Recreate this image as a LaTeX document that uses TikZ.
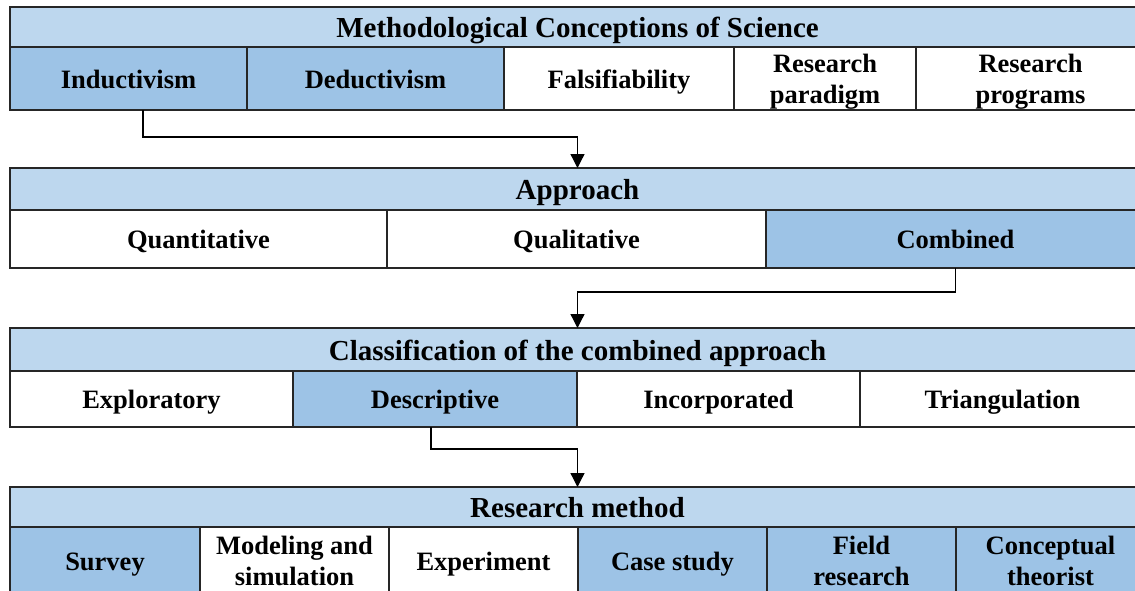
\documentclass[tikz,border=0pt]{standalone}
\usepackage{fontspec}
\setmainfont{Liberation Serif}
\usetikzlibrary{arrows.meta}

\definecolor{headfill}{HTML}{BDD7EE}
\definecolor{markfill}{HTML}{9DC3E6}
\definecolor{rulecol}{HTML}{262626}

\tikzset{
  cellbox/.style={draw=rulecol, line width=1.3pt, inner sep=0pt, outer sep=0pt,
    align=center, text=black, font=\bfseries\fontsize{26.5}{31}\selectfont},
  oneline/.style={cellbox, text height=24pt, text depth=5pt},
  twoline/.style={cellbox, text depth=0.3pt},
  headbox/.style={cellbox, fill=headfill, text height=28pt, text depth=7pt,
    font=\bfseries\fontsize{29}{32}\selectfont},
  flow/.style={draw=black, line width=1.3pt, -{Triangle[length=14pt,width=14pt]}}
}

% \tcell{name}{x1}{x2}{y1}{y2}{style}{text}: a cell spanning x1..x2, y1..y2
\newcommand\tcell[7]{%
  \node[#6, minimum width={(#3)-(#2)}, minimum height={(#5)-(#4)}]
    (#1) at ({((#2)+(#3))/2},{((#4)+(#5))/2}) {#7};}

\begin{document}
\begin{tikzpicture}[x=1pt,y=-1pt]
\useasboundingbox (0,0) rectangle (1135,590);
\clip (0,0) rectangle (1135,590);
\fill[white] (0,0) rectangle (1135,590);

% Methodological conceptions
\tcell{mch}{10}{1145}{7}{47}{headbox}{Methodological Conceptions of Science}
\tcell{ind}{10}{247}{47}{110}{oneline,fill=markfill}{Inductivism}
\tcell{ded}{247}{504}{47}{110}{oneline,fill=markfill}{Deductivism}
\tcell{fal}{504}{734}{47}{110}{oneline,fill=white}{Falsifiability}
\tcell{rpa}{734}{916}{47}{110}{twoline,fill=white}{Research\\paradigm}
\tcell{rpr}{916}{1145}{47}{110}{twoline,fill=white}{Research\\programs}

% Approach
\tcell{apph}{10}{1145}{168}{210}{headbox}{Approach}
\tcell{quan}{10}{387}{210}{268}{oneline,fill=white}{Quantitative}
\tcell{qual}{387}{766}{210}{268}{oneline,fill=white}{Qualitative}
\tcell{comb}{766}{1145}{210}{268}{oneline,fill=markfill}{Combined}

% Classification of the combined approach
\tcell{clsh}{10}{1145}{328}{371}{headbox}{Classification of the combined approach}
\tcell{expl}{10}{293}{371}{427}{oneline,fill=white}{Exploratory}
\tcell{desc}{293}{577}{371}{427}{oneline,fill=markfill}{Descriptive}
\tcell{inco}{577}{860}{371}{427}{oneline,fill=white}{Incorporated}
\tcell{tria}{860}{1145}{371}{427}{oneline,fill=white}{Triangulation}

% Research method
\tcell{rmh}{10}{1145}{487}{527}{headbox}{Research method}
\tcell{surv}{10}{200}{527}{595}{oneline,fill=markfill}{Survey}
\tcell{mods}{200}{389}{527}{595}{twoline,fill=white}{Modeling and\\simulation}
\tcell{expe}{389}{578}{527}{595}{oneline,fill=white}{Experiment}
\tcell{case}{578}{767}{527}{595}{oneline,fill=markfill}{Case study}
\tcell{fiel}{767}{956}{527}{595}{twoline,fill=markfill}{Field\\research}
\tcell{conc}{956}{1145}{527}{595}{twoline,fill=markfill}{Conceptual\\theorist}

% Connectors between the levels
\draw[flow] ([xshift=14.5pt]ind.south) -- ++(0,27) -| (apph.north);
\draw[flow] (comb.south) -- ++(0,24) -| (clsh.north);
\draw[flow] ([xshift=-4pt]desc.south) -- ++(0,22) -| (rmh.north);
\end{tikzpicture}
\end{document}
